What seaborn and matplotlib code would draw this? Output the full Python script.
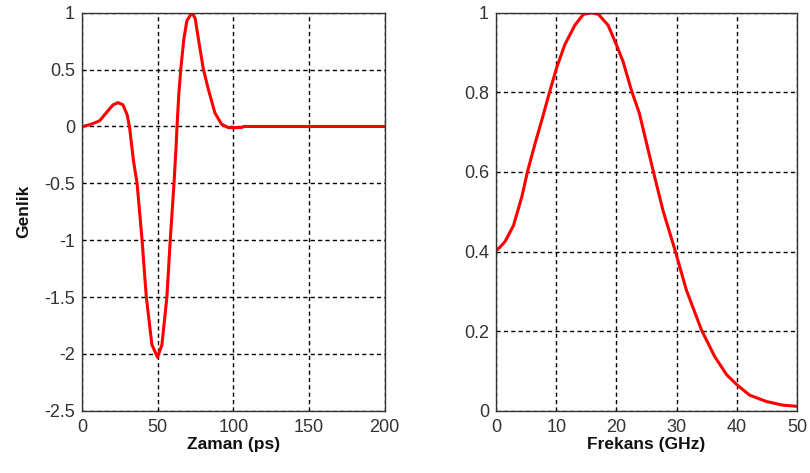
import matplotlib
matplotlib.use("Agg")
import matplotlib.pyplot as plt
import seaborn as sns
import pandas as pd

# Time-domain pulse (Zaman, ps) vs amplitude (Genlik)
time_ps = [0, 0.7, 6.1, 11.7, 16.0, 20.5, 23.8, 27.1, 29.9, 31.5, 32.5,
           34.0, 36.4, 39.7, 42.5, 46.2, 49.9, 52.8, 56.1, 58.3, 60.8,
           62.0, 62.8, 63.9, 65.3, 67.3, 69.3, 72.6, 74.8, 76.9, 80.1,
           83.4, 87.8, 92.2, 96.6, 105.4, 106.8, 150, 200]
amplitude = [0, 0, 0.02, 0.05, 0.12, 0.19, 0.21, 0.19, 0.10, -0.015, -0.13,
             -0.3, -0.5, -1.0, -1.5, -1.92, -2.03, -1.92, -1.5, -1.0, -0.5,
             -0.22, 0, 0.27, 0.51, 0.77, 0.93, 1.0, 0.95, 0.77, 0.51,
             0.33, 0.12, 0.02, -0.01, -0.01, 0, 0, 0]

# Spectrum (Frekans, GHz) vs normalized magnitude
freq_ghz = [0, 0.6, 1.5, 2.9, 4.3, 5.25, 6.5, 7.6, 8.96, 10.07, 11.4, 13.1,
            14.5, 15.9, 17.0, 18.6, 20.0, 21.1, 22.5, 23.8, 26.1, 27.7,
            29.7, 31.6, 34.1, 36.3, 38.3, 40.0, 42.1, 44.9, 47.6, 50.0]
spectrum = [0.402, 0.41, 0.425, 0.465, 0.538, 0.602, 0.672, 0.730, 0.804,
            0.862, 0.919, 0.969, 0.996, 1.0, 0.996, 0.969, 0.919, 0.877,
            0.804, 0.747, 0.602, 0.504, 0.404, 0.303, 0.203, 0.136, 0.090,
            0.065, 0.039, 0.023, 0.014, 0.011]

xticks_left = [0, 50, 100, 150, 200]
yticks_left = [-2.5, -2, -1.5, -1, -0.5, 0, 0.5, 1]
ytick_labels_left = ["-2.5", "-2", "-1.5", "-1", "-0.5", "0", "0.5", "1"]
xticks_right = [0, 10, 20, 30, 40, 50]
yticks_right = [0, 0.2, 0.4, 0.6, 0.8, 1]
ytick_labels_right = ["0", "0.2", "0.4", "0.6", "0.8", "1"]

sns.set_style("white")
plt.rcParams["font.family"] = ["Liberation Sans", "DejaVu Sans"]

fig = plt.figure(figsize=(8.1, 4.73), dpi=100)
ax1 = fig.add_axes([0.1012, 0.1317, 0.3738, 0.8413])
ax2 = fig.add_axes([0.6123, 0.1317, 0.3720, 0.8413])

df1 = pd.DataFrame({"t": time_ps, "a": amplitude})
df2 = pd.DataFrame({"f": freq_ghz, "s": spectrum})
sns.lineplot(data=df1, x="t", y="a", ax=ax1, color="#ff0000", linewidth=2.2, sort=False)
sns.lineplot(data=df2, x="f", y="s", ax=ax2, color="#ff0000", linewidth=2.2, sort=False)

for ax in (ax1, ax2):
    ax.grid(True, color="black", linestyle=(0, (3, 2.3)), linewidth=1.0)
    ax.set_axisbelow(True)
    for sp in ax.spines.values():
        sp.set_color("#333333")
        sp.set_linewidth(1.0)
        sp.set_visible(True)
    ax.tick_params(direction="in", length=3, labelsize=13, colors="#333333",
                   pad=5)
    ax.tick_params(axis="x", pad=6)

ax1.set_xlim(0, 200)
ax1.set_ylim(-2.5, 1)
ax1.set_xticks(xticks_left)
ax1.set_yticks(yticks_left)
ax1.set_yticklabels(ytick_labels_left)
ax1.set_xlabel("Zaman (ps)", fontsize=12.5, fontweight="bold", labelpad=1, color="#111111")
ax1.set_ylabel("Genlik", fontsize=12.5, fontweight="bold", labelpad=9, color="#111111")

ax2.set_xlim(0, 50)
ax2.set_ylim(0, 1)
ax2.set_xticks(xticks_right)
ax2.set_yticks(yticks_right)
ax2.set_yticklabels(ytick_labels_right)
ax2.set_xlabel("Frekans (GHz)", fontsize=12.5, fontweight="bold", labelpad=1, color="#111111")
ax2.set_ylabel("")

fig.savefig("out.png", dpi=100)
